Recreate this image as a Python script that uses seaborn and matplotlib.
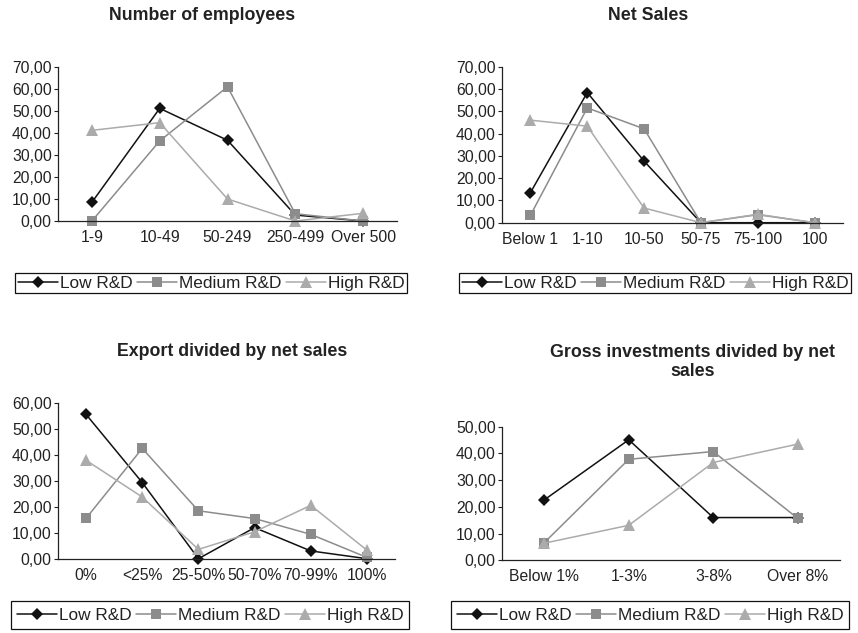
import numpy as np
import pandas as pd
import matplotlib
matplotlib.use("Agg")
import matplotlib.pyplot as plt
import seaborn as sns
from matplotlib.ticker import FuncFormatter

# Share of firms (%) per R&D intensity group
series = ["Low R&D", "Medium R&D", "High R&D"]

emp_cats = ["1-9", "10-49", "50-249", "250-499", "Over 500"]
emp_low = [8.5, 51.2, 36.7, 2.7, 0.0]
emp_med = [0.0, 36.4, 61.0, 3.3, 0.0]
emp_high = [41.2, 44.7, 10.0, 0.0, 3.5]

sales_cats = ["Below 1", "1-10", "10-50", "50-75", "75-100", "100"]
sales_low = [13.5, 58.5, 27.7, 0.0, 0.0, 0.0]
sales_med = [3.3, 51.6, 42.2, 0.0, 3.6, 0.0]
sales_high = [46.1, 43.4, 6.6, 0.0, 3.8, 0.0]

export_cats = ["0%", "<25%", "25-50%", "50-70%", "70-99%", "100%"]
export_low = [55.7, 29.4, 0.0, 12.0, 3.0, 0.0]
export_med = [15.6, 42.6, 18.5, 15.5, 9.4, 0.5]
export_high = [38.0, 23.8, 3.6, 10.4, 20.6, 3.3]

inv_cats = ["Below 1%", "1-3%", "3-8%", "Over 8%"]
inv_low = [22.6, 45.1, 16.0, 16.0]
inv_med = [6.6, 37.8, 40.7, 15.7]
inv_high = [6.4, 13.1, 36.6, 43.5]

sns.set_style("white")
plt.rcParams["font.family"] = ["Liberation Sans", "DejaVu Sans"]

W, H = 858, 633
fig = plt.figure(figsize=(W / 100, H / 100), dpi=100)

palette = {"Low R&D": "#111111", "Medium R&D": "#8c8c8c", "High R&D": "#ababab"}
markers = {"Low R&D": "D", "Medium R&D": "s", "High R&D": "^"}


def box(x0, x1, y_top, y_bot):
    return [x0 / W, 1 - y_bot / H, (x1 - x0) / W, (y_bot - y_top) / H]


def panel(rect, cats, low, med, high, ymax, title, title_xy, legend_xy, legend_pad):
    ax = fig.add_axes(rect)
    n = len(cats)
    df = pd.DataFrame({
        "pos": list(range(n)) * 3,
        "value": list(low) + list(med) + list(high),
        "series": [s for s in series for _ in range(n)],
    })
    sns.lineplot(data=df, x="pos", y="value", hue="series", style="series",
                 hue_order=series, style_order=series, palette=palette,
                 markers=markers, dashes=False, sort=False, estimator=None,
                 linewidth=1.1, markersize=7, markeredgewidth=0, ax=ax)
    for ln in ax.lines:
        if ln.get_marker() == "^":
            ln.set_markersize(9)
        elif ln.get_marker() == "D":
            ln.set_markersize(6.5)
    handles, labels = ax.get_legend_handles_labels()
    ax.get_legend().remove()

    ax.set_xlim(-0.5, n - 0.5)
    ax.set_ylim(0, ymax)
    ax.set_yticks(np.arange(0, ymax + 1, 10))
    ax.yaxis.set_major_formatter(FuncFormatter(lambda v, p: f"{v:.2f}".replace(".", ",")))
    ax.set_xticks(np.arange(n + 1) - 0.5)
    ax.set_xticklabels([])
    ax.set_xticks(np.arange(n), minor=True)
    ax.set_xticklabels(cats, minor=True)
    ax.tick_params(axis="x", which="major", direction="out", length=4, width=0.8, color="#222222")
    ax.tick_params(axis="x", which="minor", length=0, pad=6.5, labelsize=11.3, labelcolor="#222222")
    ax.tick_params(axis="y", direction="out", length=3, width=0.8, pad=1.5,
                   labelsize=11.3, labelcolor="#222222", color="#222222", left=True)
    ax.set_xlabel("")
    ax.set_ylabel("")
    sns.despine(ax=ax)
    for s in ("left", "bottom"):
        ax.spines[s].set_color("#222222")
        ax.spines[s].set_linewidth(0.9)
    for ln in ax.lines:
        ln.set_clip_on(False)

    fig.text(title_xy[0] / W, 1 - title_xy[1] / H, title, ha="center", va="center",
             fontsize=12.8, fontweight="bold", color="#222222", linespacing=1.2)
    leg = fig.legend(handles, labels, ncol=3, loc="center",
                     bbox_to_anchor=(legend_xy[0] / W, 1 - legend_xy[1] / H),
                     frameon=True, fancybox=False, edgecolor="#111111", framealpha=1,
                     fontsize=12.4, handlelength=2.35, handletextpad=0.1,
                     columnspacing=0.25, borderpad=legend_pad, borderaxespad=0)
    leg.get_frame().set_linewidth(0.9)
    for t in leg.get_texts():
        t.set_color("#222222")
    return ax


panel(box(58, 397, 67, 221), emp_cats, emp_low, emp_med, emp_high, 70,
      "Number of employees", (202, 15), (211, 283), 0.15)
panel(box(502, 843, 67, 222.7), sales_cats, sales_low, sales_med, sales_high, 70,
      "Net Sales", (648, 15), (655, 283), 0.15)
panel(box(58, 395, 403.3, 558.7), export_cats, export_low, export_med, export_high, 60,
      "Export divided by net sales", (232, 352), (210, 615), 0.35)
panel(box(502, 840, 426.7, 560.3), inv_cats, inv_low, inv_med, inv_high, 50,
      "Gross investments divided by net\nsales", (693, 362), (650, 615), 0.35)

fig.savefig("out.png", dpi=100)
